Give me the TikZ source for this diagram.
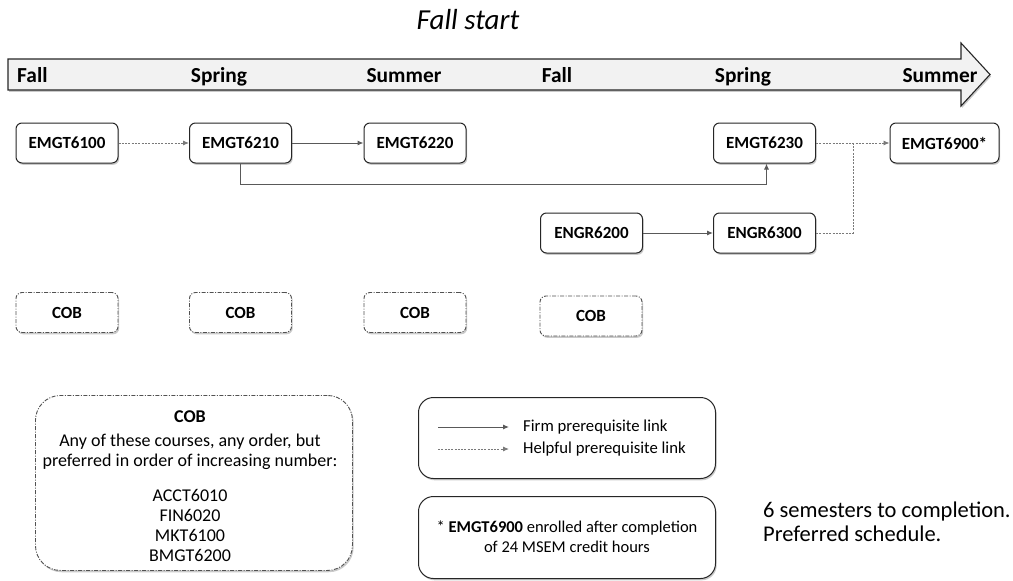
\documentclass[tikz,border=0pt]{standalone}
\usepackage{fontspec}
\setmainfont{Carlito}
\usetikzlibrary{arrows.meta,shadows}
\definecolor{banner}{HTML}{F2F2F2}
\definecolor{edge}{HTML}{262626}
\definecolor{linkc}{HTML}{595959}
\tikzset{
  shad/.style={drop shadow={shadow xshift=1.2pt,shadow yshift=-1.8pt,opacity=0.35,fill=black!60}},
  course/.style={draw=edge,line width=1pt,rounded corners=6pt,fill=white,shad,
    minimum width=102pt,minimum height=40pt,font=\fontsize{17}{20}\selectfont\bfseries,inner sep=2pt},
  cob/.style={course,draw=edge!80,dash pattern=on 4pt off 1.5pt on 1pt off 1.5pt,line width=0.9pt},
  firm/.style={draw=linkc,line width=1pt,-{Latex[length=6pt,width=5pt]}},
  help/.style={draw=linkc!80,line width=0.9pt,dash pattern=on 2pt off 1.3pt,-{Latex[length=6pt,width=5pt]}},
  helpline/.style={draw=linkc!80,line width=0.9pt,dash pattern=on 2pt off 1.3pt},
  sem/.style={font=\fontsize{21.4}{24}\selectfont\bfseries,anchor=base,inner sep=0pt},
  note/.style={draw=edge,line width=1pt,fill=white,shad},
}
\begin{document}
\begin{tikzpicture}[x=1pt,y=-1pt]
\useasboundingbox (0,0) rectangle (1013,581);
% title
\node[font=\fontsize{29}{34}\selectfont\itshape] (title) at (468,20) {Fall start};
% banner arrow
\draw[draw=edge,line width=1.1pt,fill=banner,shad]
  (8,59) -- (961,59) -- (961,43) -- (990,74.5) -- (961,106) -- (961,90) -- (8,90) -- cycle;
\node[sem,anchor=base west] (s1) at (17,82) {Fall};
\node[sem] (s2) at (219,82) {Spring};
\node[sem] (s3) at (404,82) {Summer};
\node[sem] (s4) at (557,82) {Fall};
\node[sem] (s5) at (743,82) {Spring};
\node[sem] (s6) at (940,82) {Summer};
% courses
\node[course] (e6100) at (67,143) {EMGT6100};
\node[course] (e6210) at (240.5,143) {EMGT6210};
\node[course] (e6220) at (415,143) {EMGT6220};
\node[course] (e6230) at (764.5,143) {EMGT6230};
\node[course,minimum width=109pt] (e6900) at (944.5,143) {EMGT6900*};
\node[course] (g6200) at (591.5,233) {ENGR6200};
\node[course] (g6300) at (764.5,233) {ENGR6300};
% COB boxes
\node[cob] (c1) at (67,312.5) {COB};
\node[cob] (c2) at (240.5,312.5) {COB};
\node[cob] (c3) at (415,312.5) {COB};
\node[cob] (c4) at (591,316) {COB};
% links
\draw[help] (e6100) -- (e6210);
\draw[firm] (e6210) -- (e6220);
\draw[firm] (e6210.south) -- ++(0,21) -| ([xshift=2pt]e6230.south);
\draw[firm] (g6200) -- (g6300);
\draw[help] (e6230) -- (e6900);
\coordinate (join) at (853,143);
\draw[helpline] (g6300.east) -| (join);
% COB explanation
\node[draw=edge!80,dash pattern=on 4pt off 1.5pt on 1pt off 1.5pt,line width=0.9pt,rounded corners=25pt,fill=white,shad,
  minimum width=317pt,minimum height=175pt,anchor=north west,inner sep=0pt] (cobbox) at (35,395) {};
\node[align=center,anchor=north,font=\fontsize{18}{20}\selectfont] (cobtxt) at (190,407)
  {\textbf{COB}\\[4pt]Any of these courses, any order, but\\preferred in order of increasing number:\\[15pt]ACCT6010\\FIN6020\\MKT6100\\BMGT6200};
% legend
\node[note,rounded corners=15pt,minimum width=297pt,minimum height=81pt,anchor=north west,inner sep=0pt] (leg) at (418,397) {};
\coordinate (f1) at (438,427);
\coordinate (f2) at (509,427);
\coordinate (h1) at (438,449);
\coordinate (h2) at (509,449);
\draw[firm] (f1) -- (f2);
\draw[help] (h1) -- (h2);
\node[anchor=west,inner sep=0pt,font=\fontsize{16.7}{19}\selectfont] (ftxt) at (523,427) {Firm prerequisite link};
\node[anchor=west,inner sep=0pt,font=\fontsize{16.7}{19}\selectfont] (htxt) at (523,449) {Helpful prerequisite link};
\node[note,rounded corners=15pt,minimum width=297pt,minimum height=82pt,anchor=north west,inner sep=0pt] (star) at (418,496) {};
\node[align=center,font=\fontsize{16.5}{20}\selectfont] (startxt) at (567,537)
  {* \textbf{EMGT6900} enrolled after completion\\of 24 MSEM credit hours};
% right text
\node[anchor=north west,align=left,inner sep=0pt,font=\fontsize{22.5}{24}\selectfont] (done) at (763,502)
  {6 semesters to completion.\\Preferred schedule.};
\end{tikzpicture}
\end{document}
